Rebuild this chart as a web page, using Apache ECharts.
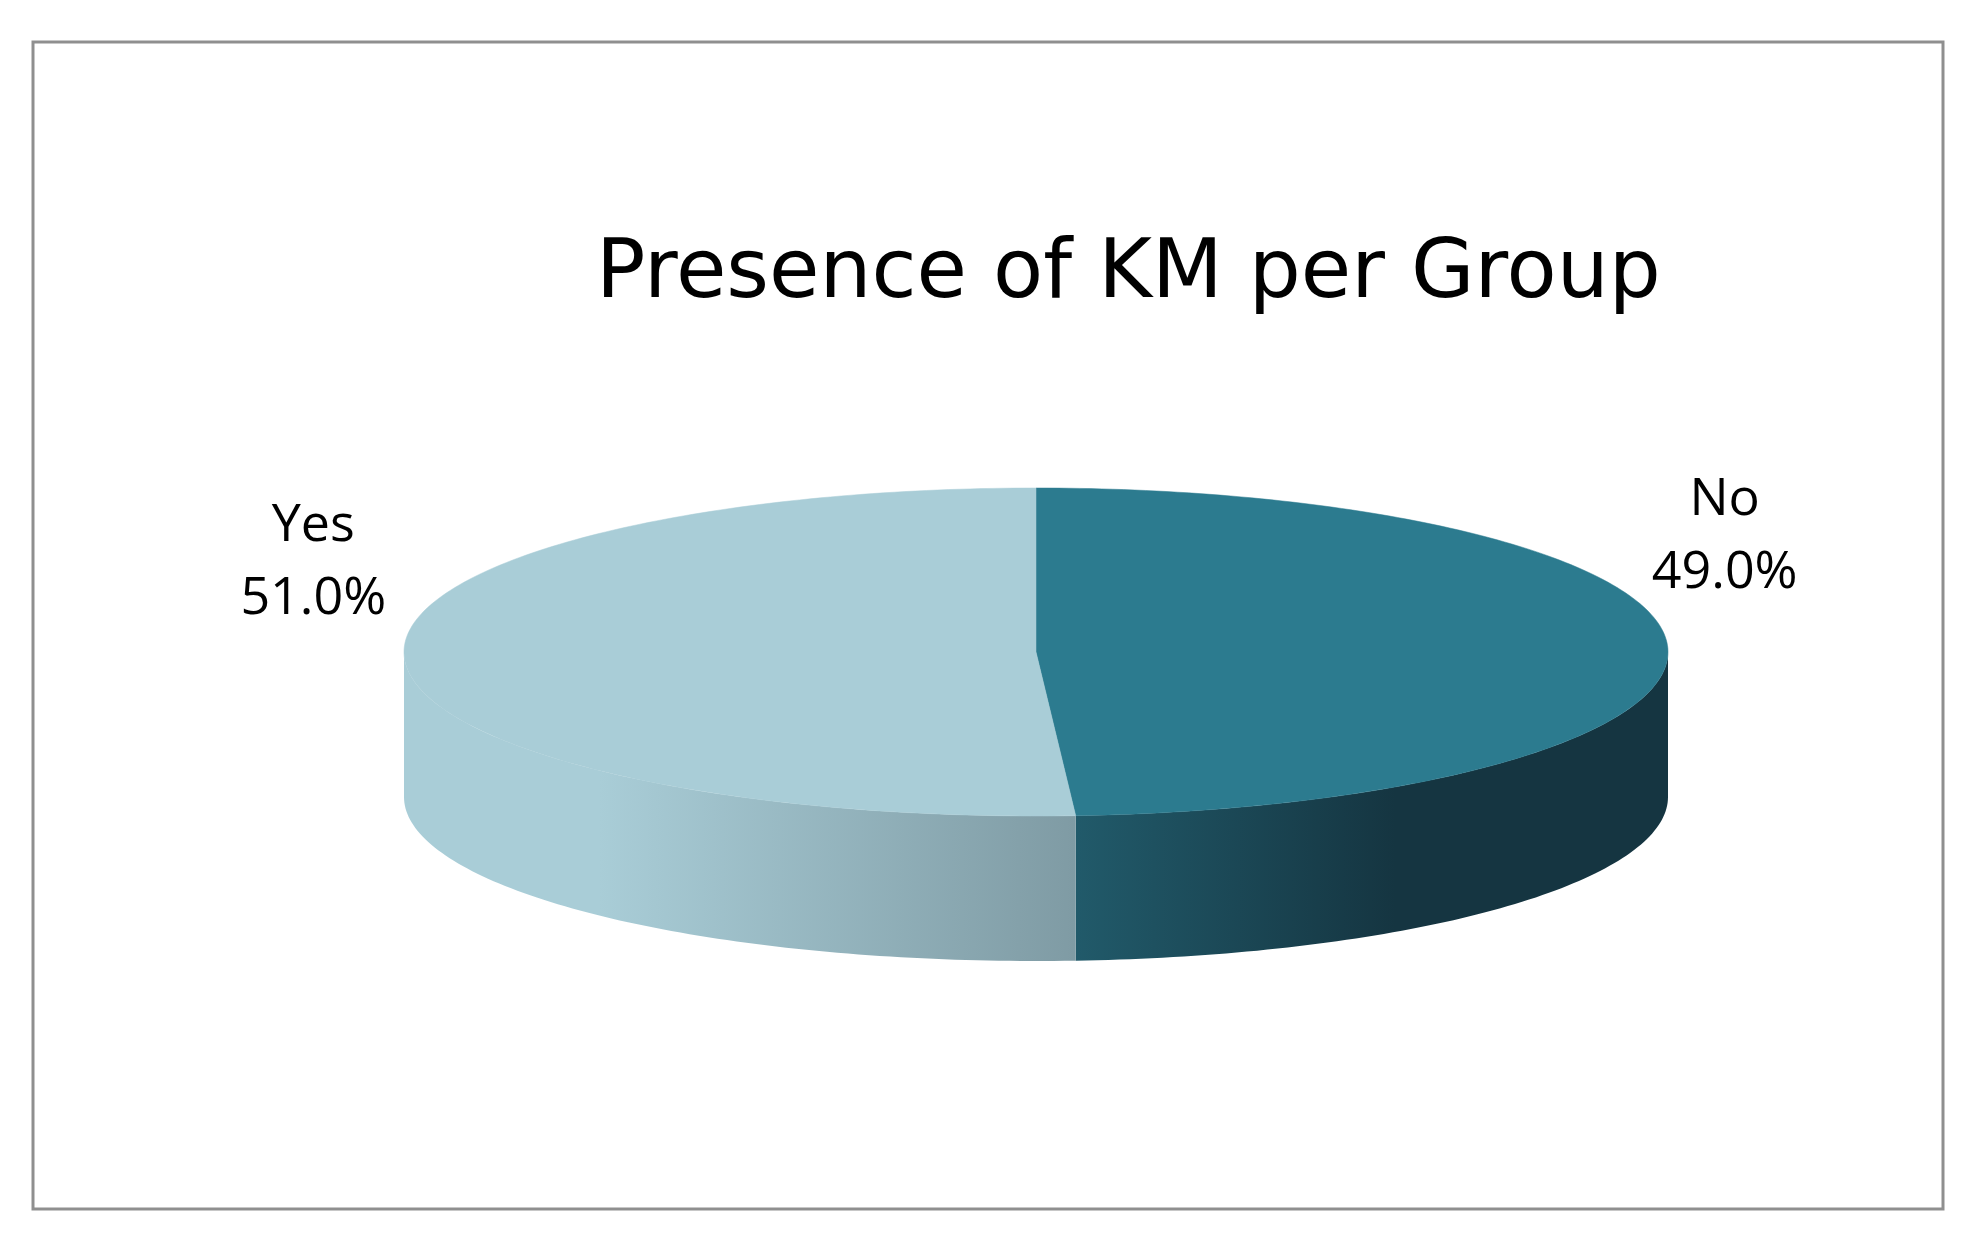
<!DOCTYPE html>
<html>
<head>
<meta charset="utf-8">
<script src="https://cdn.jsdelivr.net/npm/echarts@6/dist/echarts.min.js"></script>
<style>
html, body { margin: 0; padding: 0; background: #fff; }
#main { width: 1980px; height: 1245px; }
</style>
</head>
<body>
<div id="main"></div>
<script>
// data (Excel order: first slice starts at 12 o'clock, clockwise)
var categories = ['No', 'Yes'];
var values = [49.0, 51.0];

// look of each slice: top face, side gradient (start, end)
var topColors = ['#2c7b8f', '#a9cdd7'];
var sideColors = [['#215a6a', '#153541'], ['#a9cdd7', '#7f9ba4']];
// label nudge from the rim point at mid angle
var labelShift = [[57, -110], [-91, -94]];

var myChart = echarts.init(document.getElementById('main'));

var cx = 1036, cy = 652, rx = 632, ry = 164, depth = 145;
var total = values.reduce(function (a, b) { return a + b; }, 0);

function pt(deg, dy) {
    var r = deg * Math.PI / 180;
    return [cx + rx * Math.sin(r), cy - ry * Math.cos(r) + (dy || 0)];
}

function arc(a0, a1, dy) {
    var out = [];
    var n = Math.max(2, Math.ceil(Math.abs(a1 - a0)));
    for (var i = 0; i <= n; i++) {
        out.push(pt(a0 + (a1 - a0) * i / n, dy));
    }
    return out;
}

function renderItem(params, api) {
    var idx = params.dataIndex;
    var before = 0;
    for (var i = 0; i < idx; i++) before += values[i];
    var a0 = before / total * 360;
    var a1 = (before + api.value(0)) / total * 360;
    var children = [];

    // visible front wall (90..270 deg)
    var s = Math.max(a0, 90), e = Math.min(a1, 270);
    if (e > s) {
        var topEdge = arc(s, e, 0);
        var botEdge = arc(e, s, depth);
        var xs = topEdge.map(function (p) { return p[0]; });
        var xMin = Math.min.apply(null, xs), xMax = Math.max.apply(null, xs);
        var g;
        if (idx === 0) {
            g = { type: 'linear', x: xMin, y: 0, x2: xMin + 320, y2: 0, global: true,
                  colorStops: [{ offset: 0, color: sideColors[idx][0] }, { offset: 1, color: sideColors[idx][1] }] };
        } else {
            g = { type: 'linear', x: xMin + 195, y: 0, x2: xMax, y2: 0, global: true,
                  colorStops: [{ offset: 0, color: sideColors[idx][0] }, { offset: 1, color: sideColors[idx][1] }] };
        }
        children.push({
            type: 'polygon',
            z2: 1,
            shape: { points: topEdge.concat(botEdge) },
            style: { fill: g, stroke: null }
        });
    }

    // top face
    children.push({
        type: 'polygon',
        z2: 5,
        shape: { points: [[cx, cy]].concat(arc(a0, a1, 0)) },
        style: { fill: topColors[idx], stroke: topColors[idx], lineWidth: 0.5 }
    });

    // label
    var mid = (a0 + a1) / 2;
    var p = pt(mid, 0);
    children.push({
        type: 'text',
        z2: 10,
        x: p[0] + labelShift[idx][0],
        y: p[1] + labelShift[idx][1],
        style: {
            text: categories[idx] + '\n' + api.value(0).toFixed(1) + '%',
            font: '52px "Open Sans"',
            fill: '#000',
            align: 'center',
            verticalAlign: 'middle',
            lineHeight: 73
        }
    });

    return { type: 'group', children: children };
}

var option = {
    animation: false,
    backgroundColor: '#fff',
    title: {
        text: 'Presence of KM per Group',
        left: 591,
        top: 230,
        textStyle: {
            fontFamily: 'DejaVu Sans',
            fontSize: 82,
            fontWeight: 'normal',
            color: '#000'
        }
    },
    graphic: [{
        type: 'rect',
        shape: { x: 33, y: 42, width: 1910, height: 1167 },
        style: { fill: null, stroke: '#8f8f8f', lineWidth: 3 },
        z: -1
    }],
    series: [{
        type: 'custom',
        coordinateSystem: 'none',
        renderItem: renderItem,
        data: values.map(function (v, i) { return { name: categories[i], value: [v] }; })
    }]
};

myChart.setOption(option);
</script>
</body>
</html>
